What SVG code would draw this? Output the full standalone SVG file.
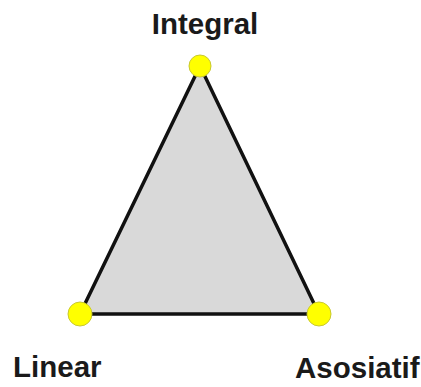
<svg xmlns="http://www.w3.org/2000/svg" width="421" height="387" viewBox="0 0 421 387">
<style>
.lbl{font-family:"Liberation Sans",Arial,sans-serif;font-weight:bold;font-size:29.5px;fill:#1a1a1a}
.dot{fill:#ffff00;stroke:#c8c832;stroke-width:1}
</style>
<rect width="421" height="387" fill="#ffffff"/>
<g id="connectors">
<polygon points="200,66 80,314 319,314" fill="#d9d9d9" stroke="#111111" stroke-width="3.5" stroke-linejoin="miter"/>
</g>
<g id="integral">
<circle class="dot" cx="200" cy="66" r="11"/>
<text class="lbl" x="205" y="34" text-anchor="middle">Integral</text>
</g>
<g id="linear">
<circle class="dot" cx="80" cy="314" r="12"/>
<text class="lbl" x="13" y="377">Linear</text>
</g>
<g id="asosiatif">
<circle class="dot" cx="319" cy="314" r="12"/>
<text class="lbl" x="295" y="378">Asosiatif</text>
</g>
</svg>
